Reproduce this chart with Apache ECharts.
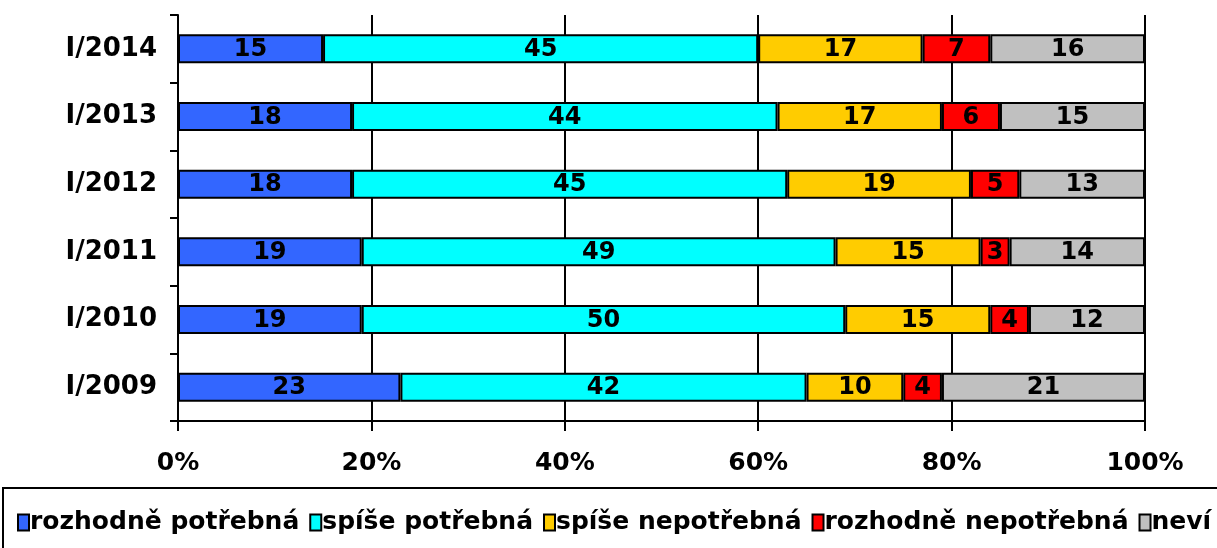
<!DOCTYPE html>
<html><head><meta charset="utf-8">
<script src="https://cdn.jsdelivr.net/npm/echarts@6/dist/echarts.min.js"></script>
<style>html,body{margin:0;padding:0;background:#fff}#c{width:1217px;height:548px}</style>
</head><body><div id="c"></div>
<script>
const categories = ['I/2009','I/2010','I/2011','I/2012','I/2013','I/2014'];
const seriesNames = ['rozhodně potřebná','spíše potřebná','spíše nepotřebná','rozhodně nepotřebná','neví'];
const rozhodnePotrebna = [23,19,19,18,18,15];
const spisePotrebna = [42,50,49,45,44,45];
const spiseNepotrebna = [10,15,15,19,17,17];
const rozhodneNepotrebna = [4,4,3,5,6,7];
const nevi = [21,12,14,13,15,16];
const xTicks = [0,20,40,60,80,100];
const colors = ['#3366FF','#00FFFF','#FFCC00','#FF0000','#C0C0C0'];
const values = [rozhodnePotrebna, spisePotrebna, spiseNepotrebna, rozhodneNepotrebna, nevi];
const font = 'DejaVu Sans';
const chart = echarts.init(document.getElementById('c'));
chart.setOption({
  animation:false,
  grid:{left:178,right:72,top:15,bottom:127,containLabel:false},
  xAxis:{type:'value',min:0,max:100,interval:20,
    axisLine:{show:true,lineStyle:{color:'#000',width:2}},
    axisTick:{show:true,length:10,lineStyle:{color:'#000',width:2}},
    splitLine:{show:true,lineStyle:{color:'#000',width:2}},
    axisLabel:{formatter:v=>v+'%',color:'#000',fontFamily:font,fontWeight:'bold',fontSize:25,margin:30}},
  yAxis:{type:'category',data:categories,
    axisLine:{show:true,lineStyle:{color:'#000',width:2}},
    axisTick:{show:true,length:8,lineStyle:{color:'#000',width:2}},
    axisLabel:{color:'#000',fontFamily:font,fontWeight:'bold',fontSize:26,margin:21}},
  legend:{show:true,left:12,top:505,itemWidth:11,itemHeight:16,itemGap:10,
    icon:'rect',
    textStyle:{color:'#000',fontFamily:font,fontWeight:'bold',fontSize:25,padding:[0,0,0,-4]},
    data:seriesNames.map((n,i)=>({name:n,itemStyle:{color:colors[i],borderColor:'#000',borderWidth:2}}))},
  graphic:[{type:'rect',shape:{x:3,y:488,width:1220,height:70},style:{fill:'none',stroke:'#000',lineWidth:2},silent:true}],
  series: seriesNames.map((n,i)=>({
    name:n,type:'bar',stack:'a',data:values[i],barWidth:29,
    itemStyle:{color:colors[i],borderColor:'#000',borderWidth:2},
    label:{show:true,position:'inside',offset:[0,1],color:'#000',fontFamily:font,fontWeight:'bold',fontSize:24}
  }))
});
</script></body></html>
